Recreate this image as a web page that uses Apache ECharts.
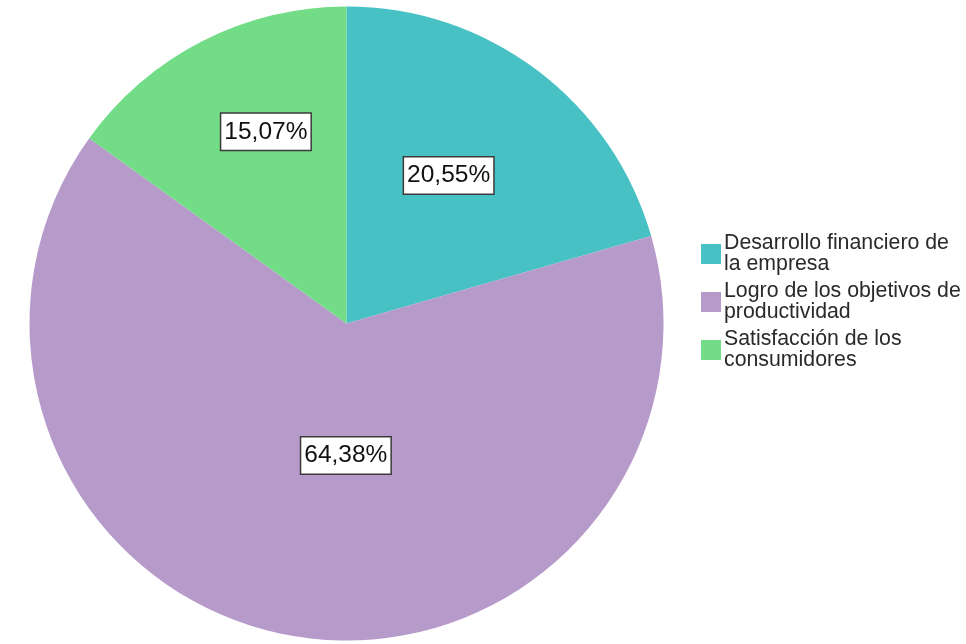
<!DOCTYPE html>
<html>
<head>
<meta charset="utf-8">
<script src="https://cdn.jsdelivr.net/npm/echarts@6/dist/echarts.min.js"></script>
<style>
html,body{margin:0;padding:0;background:#fff;}
#chart{width:966px;height:644px;}
</style>
</head>
<body>
<div id="chart"></div>
<script>
// Data (counts giving 20,55% / 64,38% / 15,07% of 73)
const categories = ['Desarrollo financiero de la empresa', 'Logro de los objetivos de productividad', 'Satisfacción de los consumidores'];
const legendLabels = ['Desarrollo financiero de\nla empresa', 'Logro de los objetivos de\nproductividad', 'Satisfacción de los\nconsumidores'];
const values = [15, 47, 11];

// Styles
const colors = ['#48C1C5', '#B69ACA', '#72DC87'];
const labelOffsets = [[5, -19], [27, -27], [-7, -48]];

const total = values.reduce((a, b) => a + b, 0);
const chart = echarts.init(document.getElementById('chart'));
chart.setOption({
  backgroundColor: '#fff',
  animation: false,
  legend: {
    orient: 'vertical',
    left: 701,
    top: 233,
    padding: 0,
    itemWidth: 20,
    itemHeight: 20,
    itemGap: 6,
    icon: 'rect',
    data: categories,
    formatter: function (name) { return legendLabels[categories.indexOf(name)]; },
    textStyle: { fontFamily: 'Liberation Sans, Arial, sans-serif', fontSize: 21.3, lineHeight: 21, color: '#2a2a2a', padding: [0, 0, 0, -2] }
  },
  series: [{
    type: 'pie',
    center: [346.5, 323.5],
    radius: [0, 317],
    startAngle: 90,
    clockwise: true,
    avoidLabelOverlap: false,
    labelLine: { show: false },
    itemStyle: { borderWidth: 0 },
    emphasis: { disabled: true },
    data: categories.map((c, i) => ({
      name: c,
      value: values[i],
      itemStyle: { color: colors[i] },
      label: {
        show: true,
        position: 'inside',
        offset: labelOffsets[i],
        formatter: () => (values[i] / total * 100).toFixed(2).replace('.', ',') + '%',
        fontFamily: 'Liberation Sans, Arial, sans-serif',
        fontSize: 24.5,
        lineHeight: 28,
        color: '#111',
        backgroundColor: '#fff',
        borderColor: '#3a3a3a',
        borderWidth: 1.5,
        padding: [4, 3, 4, 3]
      }
    }))
  }]
});
</script>
</body>
</html>
